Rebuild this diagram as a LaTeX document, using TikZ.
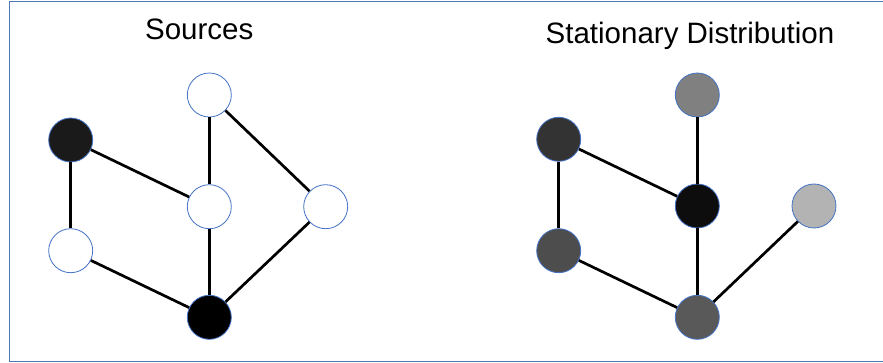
\documentclass[tikz,border=0pt]{standalone}
\usepackage{fontspec}
\setmainfont{Liberation Sans}
\definecolor{nodeblue}{RGB}{68,114,196}
\definecolor{frameblue}{RGB}{79,120,180}
\begin{document}
\begin{tikzpicture}[x=1pt,y=-1pt,
  vert/.style={circle,draw=nodeblue,line width=0.8pt,minimum size=44pt,inner sep=0pt},
  edge/.style={line width=2.7pt,black},
  title/.style={anchor=base,inner sep=0pt,font=\fontsize{29.5}{35}\selectfont}]
\useasboundingbox (0,0) rectangle (883,363);
\draw[frameblue,line width=1.3pt] (9.5,1.5) rectangle (900,361.5);
% titles
\node[title] (t1) at (199.2,40) {Sources};
\node[title] (t2) at (690,43.3) {Stationary Distribution};
% left graph
\node[vert,fill=white] (a1) at (209.3,95) {};
\node[vert,fill={rgb,255:red,26;green,26;blue,26}] (a2) at (70.7,140) {};
\node[vert,fill=white] (a3) at (209.3,206.7) {};
\node[vert,fill=white] (a4) at (325.7,206.7) {};
\node[vert,fill=white] (a5) at (70.7,250.7) {};
\node[vert,fill=black] (a6) at (209.3,317.3) {};
\draw[edge] (a1) -- (a3);
\draw[edge] (a1) -- (a4);
\draw[edge] (a2) -- (a3);
\draw[edge] (a2) -- (a5);
\draw[edge] (a3) -- (a6);
\draw[edge] (a5) -- (a6);
\draw[edge] (a4) -- (a6);
% right graph
\node[vert,fill={rgb,255:red,128;green,128;blue,128}] (b1) at (697.3,95) {};
\node[vert,fill={rgb,255:red,51;green,51;blue,51}] (b2) at (558.7,139.3) {};
\node[vert,fill={rgb,255:red,13;green,13;blue,13}] (b3) at (697.3,206) {};
\node[vert,fill={rgb,255:red,179;green,179;blue,179}] (b4) at (814,206) {};
\node[vert,fill={rgb,255:red,77;green,77;blue,77}] (b5) at (558.7,250.7) {};
\node[vert,fill={rgb,255:red,89;green,89;blue,89}] (b6) at (697.3,317.3) {};
\draw[edge] (b1) -- (b3);
\draw[edge] (b2) -- (b3);
\draw[edge] (b2) -- (b5);
\draw[edge] (b3) -- (b6);
\draw[edge] (b5) -- (b6);
\draw[edge] (b4) -- (b6);
\end{tikzpicture}
\end{document}
